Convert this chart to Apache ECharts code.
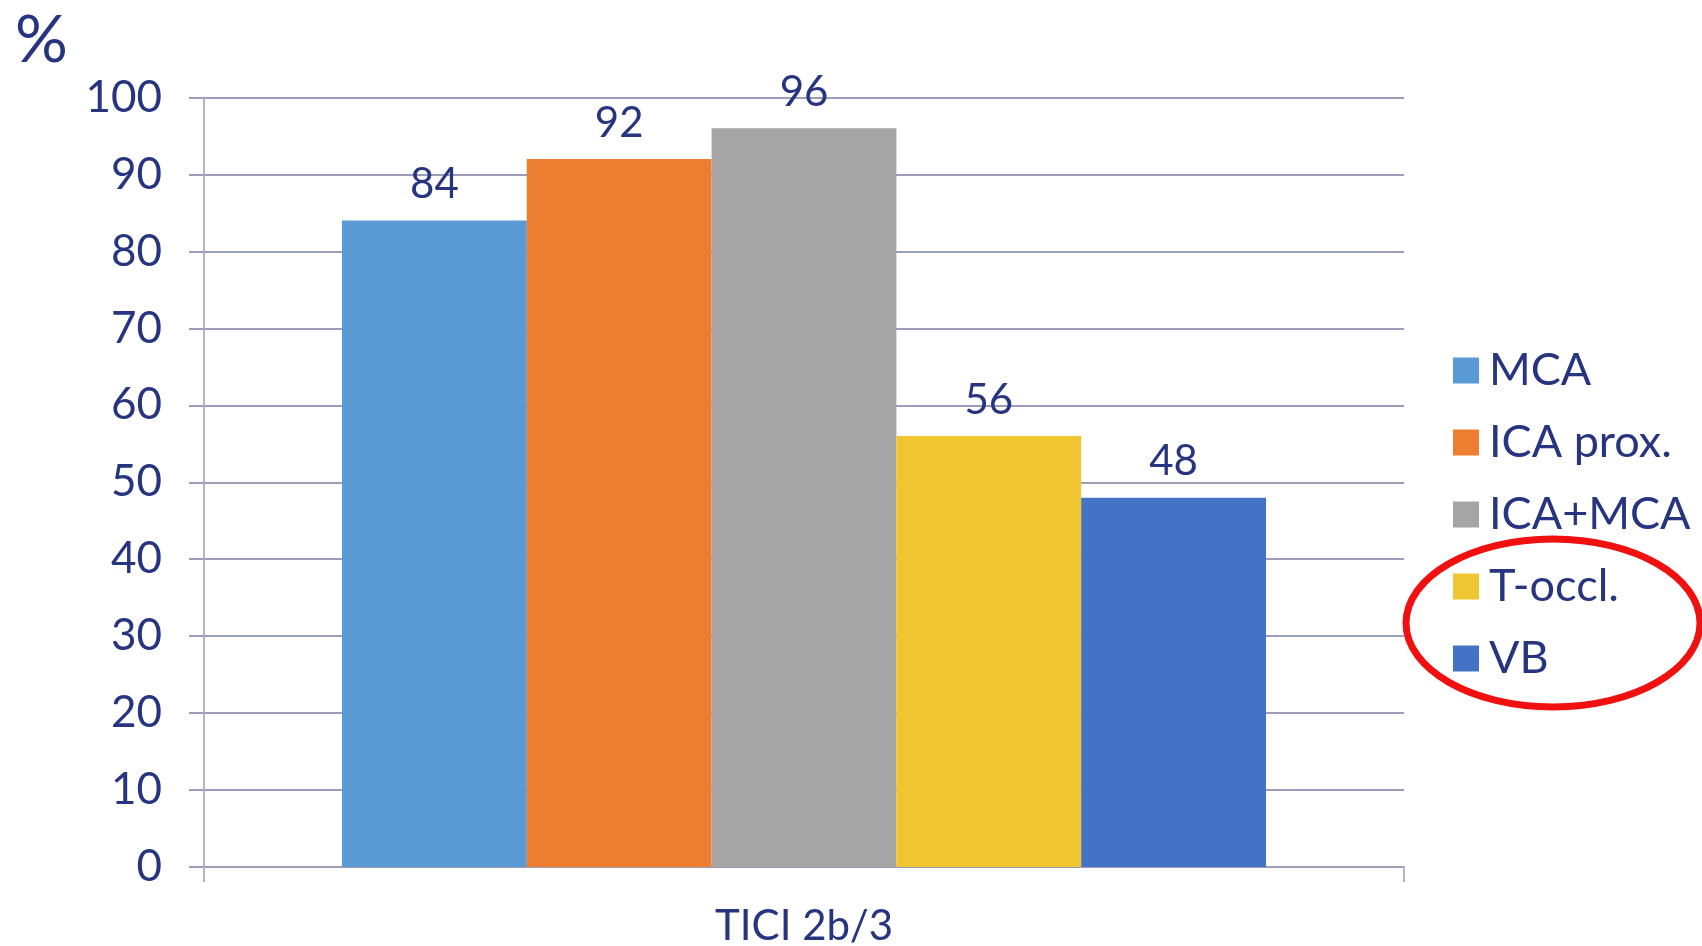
<!DOCTYPE html>
<html>
<head>
<meta charset="utf-8">
<script src="https://cdn.jsdelivr.net/npm/echarts@6/dist/echarts.min.js"></script>
<style>
  html, body { margin: 0; padding: 0; background: #fff; }
  #chart { width: 1702px; height: 946px; }
</style>
</head>
<body>
<div id="chart"></div>
<script>
// TICI 2b/3 reperfusion rate by occlusion site
const categories = ['TICI 2b/3'];
const seriesNames = ['MCA', 'ICA prox.', 'ICA+MCA', 'T-occl.', 'VB'];
const seriesValues = [[84], [92], [96], [56], [48]];
const seriesColors = ['#5b9bd5', '#ed7d31', '#a5a5a5', '#efc532', '#4472c4'];
const yTicks = { min: 0, max: 100, interval: 10 };

const navy = '#27347f';
const font = 'Lato';

const chart = echarts.init(document.getElementById('chart'), null, { renderer: 'canvas' });

const series = seriesNames.map((name, i) => ({
  name,
  type: 'bar',
  data: seriesValues[i],
  barGap: '0%',
  barCategoryGap: '23%',
  itemStyle: { color: seriesColors[i] },
  label: {
    show: true,
    position: 'top',
    distance: 15,
    color: navy,
    fontFamily: font,
    fontSize: 42
  }
}));

chart.setOption({
  animation: false,
  backgroundColor: '#ffffff',
  title: {
    text: '%',
    left: 10,
    top: 3,
    textStyle: { color: navy, fontFamily: font, fontSize: 66, fontWeight: 'normal' }
  },
  legend: {
    orient: 'vertical',
    left: 1448,
    top: 343,
    itemWidth: 26,
    itemHeight: 26,
    itemGap: 27,
    icon: 'rect',
    data: seriesNames,
    textStyle: { color: navy, fontFamily: font, fontSize: 45, padding: [0, 0, 0, 5] }
  },
  grid: {
    left: 204, right: 298, top: 97.5, bottom: 79,
    containLabel: false,
    outerBoundsMode: 'none'
  },
  xAxis: {
    type: 'category',
    data: categories,
    axisLine: { lineStyle: { color: '#9c9cbb', width: 2 } },
    axisTick: { show: true, length: 15, lineStyle: { color: '#b3b3c9', width: 2 } },
    axisLabel: { color: navy, fontFamily: font, fontSize: 42, margin: 38 }
  },
  yAxis: {
    type: 'value',
    min: yTicks.min,
    max: yTicks.max,
    interval: yTicks.interval,
    axisLine: { show: true, lineStyle: { color: '#b3b3c9', width: 2 } },
    axisTick: { show: true, length: 15, lineStyle: { color: '#9c9cbb', width: 2 } },
    axisLabel: { color: navy, fontFamily: font, fontSize: 44, margin: 42 },
    splitLine: { show: true, lineStyle: { color: '#9c9cbb', width: 2 } }
  },
  series,
  graphic: [{
    type: 'ellipse',
    shape: { cx: 1553, cy: 623, rx: 147, ry: 84 },
    style: { fill: 'none', stroke: '#f01010', lineWidth: 7 },
    z: 100
  }]
});
</script>
</body>
</html>
